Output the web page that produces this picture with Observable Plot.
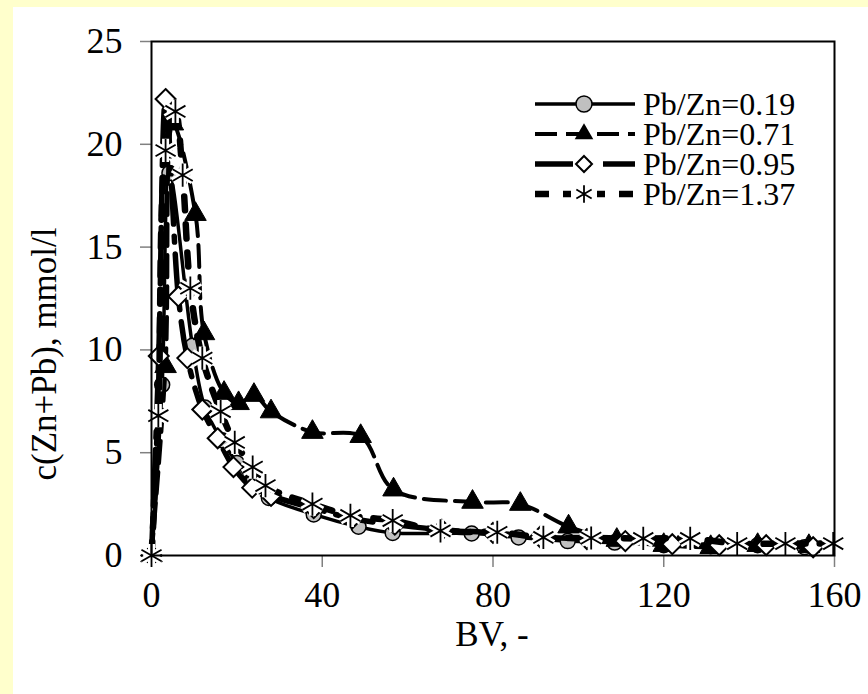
<!DOCTYPE html>
<html><head><meta charset="utf-8">
<script src="https://cdn.jsdelivr.net/npm/d3@7"></script>
<script src="https://cdn.jsdelivr.net/npm/@observablehq/plot@0.6"></script>
<style>
html,body{margin:0;padding:0;background:#FFFFCC;}
#wrap{position:relative;width:868px;height:694px;overflow:hidden;background:#FFFFCC;}
#panel{position:absolute;left:13px;top:7px;width:855px;height:687px;background:#ffffff;}
#chart{position:absolute;left:0;top:0;}
#overlay{position:absolute;left:0;top:0;pointer-events:none;}
#wrap, #wrap svg, #wrap text{font-family:'Liberation Serif','Times New Roman','DejaVu Serif',serif !important;}
</style></head><body>
<div id="wrap"><div id="panel"></div><div id="chart"></div><svg id="overlay" width="868" height="694"></svg></div>
<script>
// ---- data ----
const seriesNames = ["Pb/Zn=0.19", "Pb/Zn=0.71", "Pb/Zn=0.95", "Pb/Zn=1.37"];
const bv019 = [0, 2.5, 4.2, 9.6, 12.5, 16.5, 20, 23.5, 27.5, 38, 48.5, 56.5, 75, 86, 97.5, 108.5, 120, 131, 142, 153];
const c019  = [0, 8.3, 18.6, 10.2, 7.2, 5.6, 4.5, 3.5, 2.8, 2.0, 1.4, 1.1, 1.07, 0.88, 0.7, 0.63, 0.5, 0.45, 0.5, 0.4];
const bv071 = [0, 3.3, 5, 10.3, 12.3, 17, 20.4, 24, 28, 37.7, 49, 56.7, 75.2, 86.4, 97.7, 109, 120, 131, 142, 154];
const c071  = [0, 9.2, 21.0, 16.6, 10.8, 7.9, 7.4, 7.8, 7.0, 6.0, 5.8, 3.2, 2.6, 2.5, 1.4, 0.75, 0.5, 0.4, 0.5, 0.45];
const bv095 = [0, 1.7, 3.3, 6.3, 8.4, 11.9, 15.5, 19.2, 23.6, 28, 38, 47, 57, 68, 80, 91, 102, 111, 122, 133, 144, 155];
const c095  = [0, 9.7, 22.2, 12.6, 9.6, 7.1, 5.7, 4.3, 3.3, 2.9, 2.3, 1.8, 1.5, 1.25, 1.1, 0.9, 0.8, 0.7, 0.55, 0.5, 0.5, 0.4];
const bv137 = [0, 1.6, 3.3, 5.6, 7.3, 9.1, 11.9, 16.2, 19.5, 23.7, 26.7, 37.7, 46.6, 56.5, 67.7, 81, 91.8, 103, 115.2, 126.2, 137.2, 148.5, 159.7];
const c137  = [0, 6.8, 19.7, 21.6, 18.5, 13.0, 9.6, 7.0, 5.5, 4.3, 3.4, 2.5, 1.95, 1.7, 1.2, 1.13, 0.88, 0.85, 0.83, 0.83, 0.58, 0.58, 0.58];
const xTicks = [0, 40, 80, 120, 160];
const yTicks = [0, 5, 10, 15, 20, 25];
const xTitle = "BV, -";
const yTitle = "c(Zn+Pb), mmol/l";

// ---- build tables ----
const table = (xs, ys) => xs.map((x, i) => ({bv: x, c: ys[i]}));
const series = [table(bv019, c019), table(bv071, c071), table(bv095, c095), table(bv137, c137)];

// ---- styles ----
const FONT = "'Liberation Serif','Times New Roman','DejaVu Serif',serif";
const lineStyles = [
  {width: 3.5, dash: null},
  {width: 4, dash: "22,9"},
  {width: 5.5, dash: "38,12,6,12"},
  {width: 6.5, dash: "14,14"}
];

function markerMarks(i, data) {
  if (i === 0) return [Plot.dot(data, {x: "bv", y: "c", r: 7.5, fill: "#C0C0C0", stroke: "black", strokeWidth: 1.5})];
  if (i === 1) return [Plot.dot(data, {x: "bv", y: "c", symbol: "triangle", r: 8, fill: "black", stroke: "black", strokeWidth: 1})];
  if (i === 2) return [Plot.dot(data, {x: "bv", y: "c", symbol: "diamond2", r: 9, fill: "white", stroke: "black", strokeWidth: 2})];
  return [
    Plot.dot(data, {x: "bv", y: "c", symbol: "asterisk", r: 11, stroke: "white", strokeWidth: 7}),
    Plot.dot(data, {x: "bv", y: "c", symbol: "asterisk", r: 11, stroke: "black", strokeWidth: 1.8})
  ];
}

const marks = [];
series.forEach((d, i) => {
  marks.push(Plot.line(d, {x: "bv", y: "c", stroke: "black", strokeWidth: lineStyles[i].width,
    strokeDasharray: lineStyles[i].dash, curve: "catmull-rom", strokeLinejoin: "round"}));
  marks.push(...markerMarks(i, d));
});

const plot = Plot.plot({
  width: 868, height: 694,
  marginLeft: 151, marginRight: 34, marginTop: 41, marginBottom: 139,
  style: {fontFamily: FONT, fontSize: "36px", background: "transparent", color: "black", overflow: "visible"},
  x: {domain: [0, 160]},
  y: {domain: [0, 25]},
  marks: [
    Plot.axisX({ticks: xTicks, tickSize: 12, tickPadding: 14, label: null, stroke: "#808080", strokeWidth: 1.5, fill: "black", fontSize: 36}),
    Plot.axisY({ticks: yTicks, tickSize: 11, tickPadding: 18, label: null, stroke: "#808080", strokeWidth: 1.5, fill: "black", fontSize: 36}),
    ...marks,
    Plot.frame({stroke: "black", strokeWidth: 2})
  ]
});
document.getElementById("chart").appendChild(plot);

// ---- overlay: titles and legend ----
const svg = d3.select("#overlay");
svg.append("text").attr("x", 492).attr("y", 646).attr("text-anchor", "middle")
  .attr("font-family", FONT).attr("font-size", 35).text(xTitle);
svg.append("text").attr("transform", "translate(56,354) rotate(-90)").attr("text-anchor", "middle")
  .attr("font-family", FONT).attr("font-size", 35).text(yTitle);

const legendY = [104, 134, 164, 194];
const lg = svg.append("g");
seriesNames.forEach((name, i) => {
  const y = legendY[i];
  lg.append("line").attr("x1", 535).attr("x2", 635).attr("y1", y).attr("y2", y)
    .attr("stroke", "black").attr("stroke-width", lineStyles[i].width)
    .attr("stroke-dasharray", lineStyles[i].dash);
  const cx = 584;
  if (i === 0) lg.append("circle").attr("cx", cx).attr("cy", y).attr("r", 8).attr("fill", "#C0C0C0").attr("stroke", "black").attr("stroke-width", 1.5);
  if (i === 1) lg.append("path").attr("d", d3.symbol(d3.symbolTriangle, 150)()).attr("transform", `translate(${cx},${y})`).attr("fill", "black");
  if (i === 2) lg.append("path").attr("d", `M${cx},${y-8}L${cx+8},${y}L${cx},${y+8}L${cx-8},${y}Z`).attr("fill", "white").attr("stroke", "black").attr("stroke-width", 2);
  if (i === 3) {
    lg.append("rect").attr("x", cx - 13).attr("y", y - 11).attr("width", 26).attr("height", 22).attr("fill", "white");
    lg.append("path").attr("d", d3.symbol(d3.symbolAsterisk, 220)()).attr("transform", `translate(${cx},${y})`).attr("stroke", "black").attr("stroke-width", 1.8);
  }
  lg.append("text").attr("x", 643).attr("y", y).attr("dy", "0.35em")
    .attr("font-family", FONT).attr("font-size", 32).text(name);
});
</script>
</body></html>
